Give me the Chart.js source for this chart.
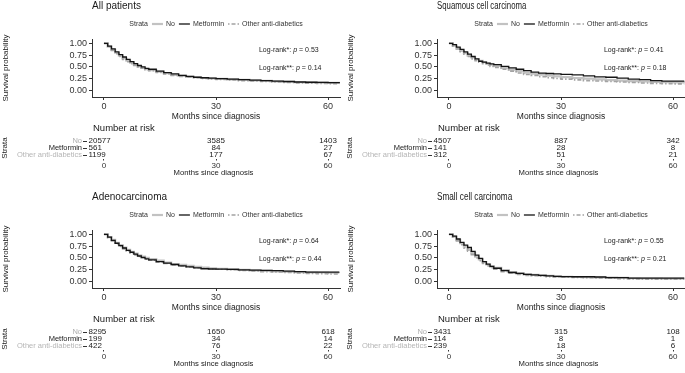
<!doctype html>
<html lang="en">
<head>
<meta charset="utf-8">
<title>Survival by anti-diabetic treatment</title>
<script src="https://cdn.jsdelivr.net/npm/chart.js"></script>
<style>
    body {
        margin: 0;
        width: 685px;
        height: 373px;
        overflow: hidden;
        background: #fff;
    }

    .panel {
        position: absolute;
        width: 342px;
        height: 182px;
    }

    .panel canvas {
        position: absolute;
        left: 0;
    }

    .km { top: 0; }
    .risk { top: 120px; }
</style>
</head>
<body>
<div class="panel" style="left:0;top:0"><canvas class="km" id="km0" width="342" height="125"></canvas><canvas class="risk" id="risk0" width="342" height="60"></canvas></div>
<div class="panel" style="left:345px;top:0"><canvas class="km" id="km1" width="342" height="125"></canvas><canvas class="risk" id="risk1" width="342" height="60"></canvas></div>
<div class="panel" style="left:0;top:191px"><canvas class="km" id="km2" width="342" height="125"></canvas><canvas class="risk" id="risk2" width="342" height="60"></canvas></div>
<div class="panel" style="left:345px;top:191px"><canvas class="km" id="km3" width="342" height="125"></canvas><canvas class="risk" id="risk3" width="342" height="60"></canvas></div>

<script>
    // ---- data ----
    const months = [0, 1, 2, 3, 4, 5, 6, 7, 8, 9, 10, 11, 12, 14, 16, 18, 20, 22, 24, 26, 28, 30,
        33, 36, 39, 42, 45, 48, 51, 54, 57, 60, 63];
    const strata = ['No', 'Metformin', 'Other anti-diabetics'];
    const xTicks = [0, 30, 60];
    const yTicks = [0, 0.25, 0.5, 0.75, 1];
    const riskTimes = [0, 30, 60];
    const panelTitles = ['All patients', 'Squamous cell carcinoma', 'Adenocarcinoma', 'Small cell carcinoma'];

    // All patients
    const allNo = [1, 0.93, 0.86, 0.80, 0.74, 0.68, 0.63, 0.59, 0.55, 0.51, 0.48, 0.45, 0.43, 0.40, 0.37, 0.33, 0.31, 0.29, 0.28,
        0.265, 0.255, 0.245, 0.235, 0.225, 0.215, 0.205, 0.195, 0.185, 0.175, 0.17, 0.165, 0.16, 0.155];
    const allMet = [1, 0.94, 0.88, 0.82, 0.76, 0.71, 0.66, 0.61, 0.57, 0.53, 0.50, 0.47, 0.45, 0.41, 0.38, 0.35, 0.32, 0.30, 0.28,
        0.27, 0.26, 0.25, 0.24, 0.23, 0.22, 0.21, 0.20, 0.19, 0.18, 0.175, 0.17, 0.165, 0.16];
    const allOther = [1, 0.92, 0.85, 0.78, 0.72, 0.66, 0.61, 0.57, 0.53, 0.50, 0.47, 0.44, 0.42, 0.38, 0.35, 0.32, 0.30, 0.28, 0.27,
        0.255, 0.245, 0.235, 0.225, 0.21, 0.20, 0.19, 0.18, 0.17, 0.16, 0.155, 0.15, 0.145, 0.14];
    const allRisk = [[20577, 3585, 1403], [561, 84, 27], [1199, 177, 67]];
    const allP = [0.53, 0.14];

    // Squamous cell carcinoma
    const sqNo = [1, 0.95, 0.89, 0.84, 0.79, 0.74, 0.70, 0.66, 0.63, 0.60, 0.57, 0.545, 0.52, 0.48, 0.44, 0.41, 0.38, 0.355, 0.335,
        0.315, 0.30, 0.285, 0.265, 0.25, 0.235, 0.22, 0.21, 0.20, 0.19, 0.18, 0.175, 0.17, 0.165];
    const sqMet = [1, 0.97, 0.92, 0.87, 0.82, 0.77, 0.72, 0.67, 0.62, 0.60, 0.58, 0.565, 0.55, 0.51, 0.48, 0.45, 0.42, 0.39, 0.37,
        0.36, 0.35, 0.34, 0.33, 0.31, 0.29, 0.28, 0.26, 0.24, 0.23, 0.21, 0.20, 0.20, 0.20];
    const sqOther = [1, 0.94, 0.88, 0.82, 0.77, 0.72, 0.67, 0.63, 0.60, 0.57, 0.54, 0.51, 0.49, 0.45, 0.41, 0.37, 0.34, 0.32, 0.29,
        0.27, 0.255, 0.24, 0.225, 0.21, 0.20, 0.19, 0.18, 0.17, 0.16, 0.15, 0.145, 0.14, 0.14];
    const sqRisk = [[4507, 887, 342], [141, 28, 8], [312, 51, 21]];
    const sqP = [0.41, 0.18];

    // Adenocarcinoma
    const adNo = [1, 0.94, 0.88, 0.82, 0.77, 0.72, 0.67, 0.63, 0.59, 0.555, 0.525, 0.50, 0.475, 0.44, 0.40, 0.37, 0.35, 0.33, 0.31,
        0.295, 0.28, 0.27, 0.26, 0.245, 0.235, 0.225, 0.215, 0.21, 0.20, 0.195, 0.19, 0.185, 0.18];
    const adMet = [1, 0.94, 0.87, 0.81, 0.76, 0.71, 0.66, 0.62, 0.58, 0.54, 0.51, 0.48, 0.46, 0.42, 0.39, 0.36, 0.33, 0.31, 0.29,
        0.27, 0.265, 0.26, 0.255, 0.245, 0.24, 0.235, 0.23, 0.22, 0.21, 0.20, 0.20, 0.20, 0.20];
    const adOther = [1, 0.93, 0.86, 0.80, 0.74, 0.69, 0.64, 0.60, 0.56, 0.53, 0.50, 0.47, 0.45, 0.41, 0.38, 0.35, 0.33, 0.31, 0.29,
        0.28, 0.27, 0.26, 0.25, 0.235, 0.225, 0.21, 0.20, 0.19, 0.18, 0.17, 0.165, 0.16, 0.16];
    const adRisk = [[8295, 1650, 618], [199, 34, 14], [422, 76, 22]];
    const adP = [0.64, 0.44];

    // Small cell carcinoma
    const scNo = [1, 0.95, 0.88, 0.81, 0.74, 0.67, 0.60, 0.53, 0.47, 0.41, 0.36, 0.32, 0.29, 0.24, 0.20, 0.17, 0.15, 0.14, 0.13,
        0.12, 0.11, 0.10, 0.095, 0.09, 0.085, 0.08, 0.075, 0.07, 0.065, 0.065, 0.06, 0.06, 0.06];
    const scMet = [1, 0.96, 0.90, 0.83, 0.77, 0.72, 0.64, 0.56, 0.49, 0.42, 0.37, 0.32, 0.28, 0.23, 0.19, 0.17, 0.15, 0.14, 0.13,
        0.12, 0.11, 0.105, 0.10, 0.10, 0.095, 0.08, 0.08, 0.07, 0.07, 0.07, 0.07, 0.07, 0.07];
    const scOther = [1, 0.94, 0.86, 0.78, 0.71, 0.64, 0.57, 0.50, 0.44, 0.38, 0.33, 0.29, 0.26, 0.21, 0.18, 0.15, 0.13, 0.12, 0.11,
        0.10, 0.095, 0.09, 0.085, 0.08, 0.075, 0.07, 0.06, 0.055, 0.05, 0.05, 0.05, 0.05, 0.05];
    const scRisk = [[3431, 315, 108], [114, 8, 1], [239, 18, 6]];
    const scP = [0.55, 0.21];

    const panelCurves = [[allNo, allMet, allOther], [sqNo, sqMet, sqOther], [adNo, adMet, adOther], [scNo, scMet, scOther]];
    const panelRisk = [allRisk, sqRisk, adRisk, scRisk];
    const panelP = [allP, sqP, adP, scP];

    // ---- styling ----
    const FONT = '"Liberation Sans", Arial, Helvetica, sans-serif';
    const lineColors = ['#c2c2c2', '#141414', '#a3a3a3'];
    const lineDashes = [[], [], [1.5, 2, 4, 2]];
    const lineWidths = [2.2, 1.3, 1.6];
    const labelColors = ['#adadad', '#1a1a1a', '#b5b5b5'];
    // the right-hand titles are set narrower in the original
    const titleSqueeze = [1, 0.78, 1, 0.82];

    // titles, legend and log-rank notes on the survival plot
    const kmDecor = {
        id: 'kmDecor',
        afterDraw(chart, args, opts) {
            const { ctx, chartArea, scales } = chart;
            ctx.save();
            ctx.textBaseline = 'middle';
            ctx.textAlign = 'left';
            ctx.fillStyle = '#1a1a1a';
            ctx.font = '10px ' + FONT;
            ctx.save();
            ctx.translate(chartArea.left, 6);
            ctx.scale(opts.squeeze, 1);
            ctx.fillText(opts.title, 0, 0);
            ctx.restore();

            // legend
            ctx.font = '7px ' + FONT;
            const sample = 11, gap = 3, sep = 4;
            const sets = chart.data.datasets;
            let total = ctx.measureText('Strata').width + sep;
            sets.forEach((d, i) => {
                total += sample + gap + ctx.measureText(d.label).width + (i < sets.length - 1 ? sep : 0);
            });
            let x = (chartArea.left + chartArea.right) / 2 - total / 2;
            const y = 24;
            ctx.fillStyle = '#333';
            ctx.fillText('Strata', x, y);
            x += ctx.measureText('Strata').width + sep;
            sets.forEach(d => {
                ctx.beginPath();
                ctx.setLineDash(d.borderDash || []);
                ctx.strokeStyle = d.borderColor;
                ctx.lineWidth = d.borderWidth;
                ctx.moveTo(x, y);
                ctx.lineTo(x + sample, y);
                ctx.stroke();
                ctx.setLineDash([]);
                x += sample + gap;
                ctx.fillStyle = '#333';
                ctx.fillText(d.label, x, y);
                x += ctx.measureText(d.label).width + sep;
            });

            // log-rank annotations
            const notes = [['Log-rank*: ', opts.p[0], 0.86], ['Log-rank**: ', opts.p[1], 0.48]];
            notes.forEach(n => {
                let tx = scales.x.getPixelForValue(41.5);
                const ty = scales.y.getPixelForValue(n[2]);
                ctx.fillStyle = '#1a1a1a';
                ctx.font = '7px ' + FONT;
                ctx.fillText(n[0], tx, ty);
                tx += ctx.measureText(n[0]).width;
                ctx.font = 'italic 7px ' + FONT;
                ctx.fillText('p', tx, ty);
                tx += ctx.measureText('p').width;
                ctx.font = '7px ' + FONT;
                ctx.fillText(' = ' + n[1].toFixed(2), tx, ty);
            });
            ctx.restore();
        }
    };

    // numbers at risk, placed on the table chart's points
    const riskDecor = {
        id: 'riskDecor',
        afterDraw(chart) {
            const { ctx, chartArea } = chart;
            ctx.save();
            ctx.fillStyle = '#1a1a1a';
            ctx.textBaseline = 'middle';
            ctx.textAlign = 'left';
            ctx.font = '9.5px ' + FONT;
            ctx.fillText('Number at risk', chartArea.left + 6, 8);
            ctx.font = '8px ' + FONT;
            chart.data.datasets.forEach((d, r) => {
                const meta = chart.getDatasetMeta(r);
                meta.data.forEach((pt, i) => {
                    const txt = String(d.counts[i]);
                    if (riskTimes[i] === 0) {
                        ctx.textAlign = 'left';
                        ctx.fillText(txt, chartArea.left + 1.5, pt.y);
                    } else {
                        ctx.textAlign = 'center';
                        ctx.fillText(txt, pt.x, pt.y);
                    }
                });
            });
            ctx.restore();
        }
    };

    function setTicks(values) {
        return scale => { scale.ticks = values.map(v => ({ value: v })); };
    }

    panelTitles.forEach((title, p) => {
        new Chart(document.getElementById('km' + p), {
            type: 'line',
            data: {
                datasets: strata.map((s, k) => ({
                    label: s,
                    data: months.map((m, i) => ({ x: m, y: panelCurves[p][k][i] })),
                    borderColor: lineColors[k],
                    borderDash: lineDashes[k],
                    borderWidth: lineWidths[k],
                    stepped: true,
                    pointRadius: 0,
                    fill: false,
                    order: [3, 1, 2][k]
                }))
            },
            options: {
                responsive: false,
                animation: false,
                layout: { padding: { top: 39, right: 2, left: 0, bottom: 0 } },
                plugins: {
                    legend: { display: false },
                    tooltip: { enabled: false },
                    kmDecor: { title: title, p: panelP[p], squeeze: titleSqueeze[p] }
                },
                scales: {
                    x: {
                        type: 'linear',
                        min: -3.2,
                        max: 63.2,
                        afterBuildTicks: setTicks(xTicks),
                        afterFit: s => { s.height = 28; },
                        grid: { display: true, drawOnChartArea: false, tickLength: 3, color: '#333' },
                        border: { display: true, color: '#333', width: 1 },
                        ticks: { font: { size: 9, family: FONT }, color: '#333', padding: 1, maxRotation: 0 },
                        title: {
                            display: true, text: 'Months since diagnosis',
                            font: { size: 8.5, family: FONT }, color: '#1a1a1a',
                            padding: { top: 0, bottom: 3 }
                        }
                    },
                    y: {
                        min: -0.138,
                        max: 1.091,
                        afterBuildTicks: setTicks(yTicks),
                        afterFit: s => { s.width = 92; },
                        grid: { display: true, drawOnChartArea: false, tickLength: 3, color: '#333' },
                        border: { display: true, color: '#333', width: 1 },
                        ticks: {
                            font: { size: 9, family: FONT }, color: '#333', padding: 2,
                            callback: v => v.toFixed(2)
                        },
                        title: {
                            display: true, text: 'Survival probability',
                            font: { size: 8, family: FONT }, color: '#1a1a1a',
                            padding: { top: 1, bottom: 0 }
                        }
                    }
                }
            },
            plugins: [kmDecor]
        });

        new Chart(document.getElementById('risk' + p), {
            type: 'scatter',
            data: {
                datasets: strata.map((s, k) => ({
                    label: s,
                    counts: panelRisk[p][k],
                    data: riskTimes.map(t => ({ x: t, y: s })),
                    pointRadius: 0
                }))
            },
            options: {
                responsive: false,
                animation: false,
                layout: { padding: { top: 17.5, right: 2, left: 0, bottom: 0 } },
                plugins: { legend: { display: false }, tooltip: { enabled: false } },
                scales: {
                    x: {
                        type: 'linear',
                        min: -4.55,
                        max: 63.2,
                        afterBuildTicks: setTicks(xTicks),
                        afterFit: s => { s.height = 21.5; },
                        grid: { display: true, drawOnChartArea: false, tickLength: 2, color: '#333' },
                        border: { display: false },
                        ticks: { font: { size: 8, family: FONT }, color: '#333', padding: 0, maxRotation: 0 },
                        title: {
                            display: true, text: 'Months since diagnosis',
                            font: { size: 7.7, family: FONT }, color: '#1a1a1a',
                            padding: { top: 0, bottom: 2 }
                        }
                    },
                    y: {
                        type: 'category',
                        labels: strata,
                        offset: true,
                        afterFit: s => { s.width = 87; },
                        grid: { display: true, drawOnChartArea: false, tickLength: 4, color: '#333', offset: false },
                        border: { display: false },
                        ticks: {
                            font: { size: 7.5, family: FONT }, padding: 1,
                            autoSkip: false,
                            color: c => labelColors[c.index]
                        },
                        title: {
                            display: true, text: 'Strata',
                            font: { size: 8, family: FONT }, color: '#1a1a1a',
                            padding: { top: 0, bottom: 0 }
                        }
                    }
                }
            },
            plugins: [riskDecor]
        });
    });
</script>
</body>
</html>
